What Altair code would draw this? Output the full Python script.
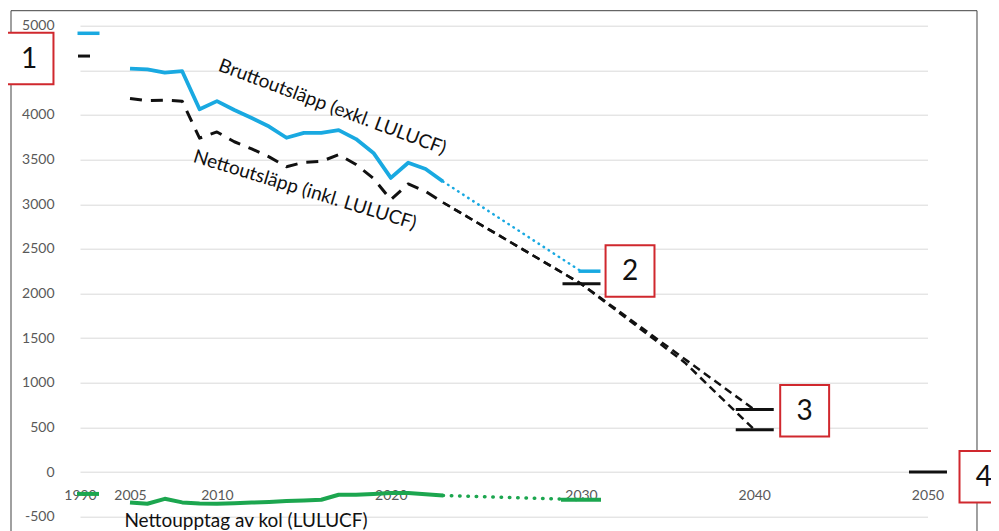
import altair as alt
import pandas as pd

FONT = "Lato"
BLUE = "#19A9E1"
BLACK = "#111111"
GREEN = "#1CA64F"
RED = "#D0282E"
LABEL_GRAY = "#595959"
GRID = "#D9D9D9"

# ---- historical series (2005-2023) ----
years = list(range(2005, 2024))
brutto = [4520, 4510, 4475, 4490, 4065, 4155, 4055, 3965, 3870, 3745,
          3800, 3800, 3830, 3730, 3575, 3295, 3465, 3395, 3255]
netto = [4185, 4160, 4165, 4155, 3740, 3810, 3700, 3620, 3530, 3420,
         3470, 3480, 3555, 3445, 3290, 3050, 3227, 3143, 3020]
lulucf = [-340, -355, -300, -340, -352, -355, -350, -342, -335, -325,
          -318, -310, -254, -254, -245, -235, -235, -248, -262]

# ---- projections ----
brutto_proj_years = [2023, 2030]
brutto_proj = [3255, 2250]
netto_projA_years = [2023, 2030, 2040]
netto_projA = [3020, 2110, 700]
netto_projB_years = [2023, 2030, 2036, 2040]
netto_projB = [3020, 2110, 1225, 475]
lulucf_proj_years = [2023, 2030]
lulucf_proj = [-262, -310]

# ---- levels / targets (short dashes) ----
brutto_level_years = [1990, 2030]
brutto_levels = [4915, 2250]
netto_level_years = [1990, 2030, 2040, 2040, 2050]
netto_levels = [4660, 2110, 700, 475, 0]
lulucf_level_years = [1990, 2030]
lulucf_levels = [-245, -310]

# ---- axis ticks ----
x_ticks = [1990, 2005, 2010, 2020, 2030, 2040, 2050]
y_ticks = list(range(-500, 5001, 500))
y_hidden_label = 4500  # covered by box "1" in the original

# ---- annotations ----
ann_texts = ["Bruttoutsläpp (exkl. LULUCF)", "Nettoutsläpp (inkl. LULUCF)", "Nettoupptag av kol (LULUCF)"]
ann_years = [2016.64, 2015.06, 2011.67]
ann_values = [4089, 3160, -612]
box_labels = ["1", "2", "3", "4"]
box_years = [1974.7, 2032.83, 2042.91, 2053.26]
box_values = [4632, 2253, 686, -53]


def df(xs, ys):
    return pd.DataFrame({"year": xs, "value": ys})


x_scale = alt.Scale(domain=[1990, 2005, 2023, 2030, 2050],
                    range=[10, 60, 373, 511, 857.5], nice=False, zero=False)
y_scale = alt.Scale(domain=[-500, 5000], nice=False, zero=False)

x_axis = alt.Axis(values=x_ticks, labelExpr="'' + datum.value", grid=False, ticks=False,
                  domain=False, offset=-44.7, labelPadding=17, labelFont=FONT,
                  labelFontSize=14, labelColor=LABEL_GRAY, labelFlush=False,
                  labelOverlap=False, title="")
y_axis = alt.Axis(values=y_ticks,
                  labelExpr=f"datum.value == {y_hidden_label} ? '' : '' + datum.value",
                  grid=True, gridColor=GRID,
                  gridWidth=1, ticks=False, domain=False, labelPadding=16, labelFont=FONT,
                  labelFontSize=14, labelColor=LABEL_GRAY, labelFlush=False,
                  labelOverlap=False, title="")

X = alt.X("year:Q", scale=x_scale, axis=x_axis)
Y = alt.Y("value:Q", scale=y_scale, axis=y_axis)

frame = alt.Chart(pd.DataFrame({"k": [0]})).mark_rect(
    fill="white", fillOpacity=0, stroke="#404040", strokeWidth=1
).encode(x=alt.value(-59), x2=alt.value(907), y=alt.value(-15), y2=alt.value(560))

green_line = alt.Chart(df(years, lulucf)).mark_line(
    color=GREEN, strokeWidth=4, strokeJoin="round").encode(x=X, y=Y)
green_proj = alt.Chart(df(lulucf_proj_years, lulucf_proj)).mark_line(
    color=GREEN, strokeWidth=3.5, strokeDash=[0.5, 7.8], strokeCap="round").encode(x=X, y=Y)

black_line = alt.Chart(df(years, netto)).mark_line(
    color=BLACK, strokeWidth=3, strokeDash=[12, 9], strokeJoin="round").encode(x=X, y=Y)
black_projA = alt.Chart(df(netto_projA_years, netto_projA)).mark_line(
    color=BLACK, strokeWidth=2.5, strokeDash=[8, 5]).encode(x=X, y=Y)
black_projB = alt.Chart(df(netto_projB_years, netto_projB)).mark_line(
    color=BLACK, strokeWidth=2.5, strokeDash=[8, 5]).encode(x=X, y=Y)

blue_line = alt.Chart(df(years, brutto)).mark_line(
    color=BLUE, strokeWidth=3.8, strokeJoin="round").encode(x=X, y=Y)
blue_proj = alt.Chart(df(brutto_proj_years, brutto_proj)).mark_line(
    color=BLUE, strokeWidth=2.5, strokeDash=[0.5, 5.5], strokeCap="round").encode(x=X, y=Y)

blue_levels = alt.Chart(df(brutto_level_years, brutto_levels)).mark_tick(
    orient="horizontal", size=22, thickness=3.5, xOffset=8.5, color=BLUE, opacity=1
).encode(x=X, y=Y)

netto_df = df(netto_level_years, netto_levels)
black_level_1990 = alt.Chart(netto_df).transform_filter("datum.year == 1990").mark_tick(
    orient="horizontal", size=12, thickness=3, xOffset=4, color=BLACK, opacity=1
).encode(x=X, y=Y)
black_levels = alt.Chart(netto_df).transform_filter("datum.year > 1990").mark_tick(
    orient="horizontal", size=38, thickness=3, xOffset=0.5, color=BLACK, opacity=1
).encode(x=X, y=Y)

lulucf_df = df(lulucf_level_years, lulucf_levels)
green_level_1990 = alt.Chart(lulucf_df).transform_filter("datum.year == 1990").mark_tick(
    orient="horizontal", size=22, thickness=4, xOffset=8, color=GREEN, opacity=1
).encode(x=X, y=Y)
green_level_2030 = alt.Chart(lulucf_df).transform_filter("datum.year > 1990").mark_tick(
    orient="horizontal", size=40, thickness=4, color=GREEN, opacity=1
).encode(x=X, y=Y)

ann_df = pd.DataFrame({"year": ann_years, "value": ann_values, "text": ann_texts})
ann_brutto = alt.Chart(ann_df.iloc[[0]]).mark_text(
    angle=20.5, font=FONT, fontSize=19, color="#111111", align="center", baseline="middle"
).encode(x=X, y=Y, text="text:N")
ann_netto = alt.Chart(ann_df.iloc[[1]]).mark_text(
    angle=17, font=FONT, fontSize=19, color="#111111", align="center", baseline="middle"
).encode(x=X, y=Y, text="text:N")
ann_lulucf = alt.Chart(ann_df.iloc[[2]]).mark_text(
    font=FONT, fontSize=19, color="#111111", align="center", baseline="alphabetic"
).encode(x=X, y=Y, text="text:N")

box_df = pd.DataFrame({"year": box_years, "value": box_values, "label": box_labels})
boxes = alt.Chart(box_df).mark_point(
    shape="M-0.95,-1H0.95V1H-0.95Z", size=2652, filled=True, fill="white",
    stroke=RED, strokeWidth=2, opacity=1, fillOpacity=1, strokeOpacity=1
).encode(x=X, y=Y)
box_text = alt.Chart(box_df).mark_text(
    font=FONT, fontSize=28, color="#111111", align="center", baseline="middle", dy=1
).encode(x=X, y=Y, text="label:N")

chart = alt.layer(
    frame, green_line, green_proj, black_line, black_projA, black_projB,
    blue_line, blue_proj, blue_levels, black_level_1990, black_levels,
    green_level_1990, green_level_2030, ann_brutto, ann_netto, ann_lulucf,
    boxes, box_text
).properties(
    width=883, height=491,
    padding={"left": 62, "top": 17.7, "right": 38, "bottom": 14},
    autosize=alt.AutoSizeParams(type="none"),
).configure_view(stroke="transparent")

chart.save("out.html", embed_options={"renderer": "svg", "actions": False})
